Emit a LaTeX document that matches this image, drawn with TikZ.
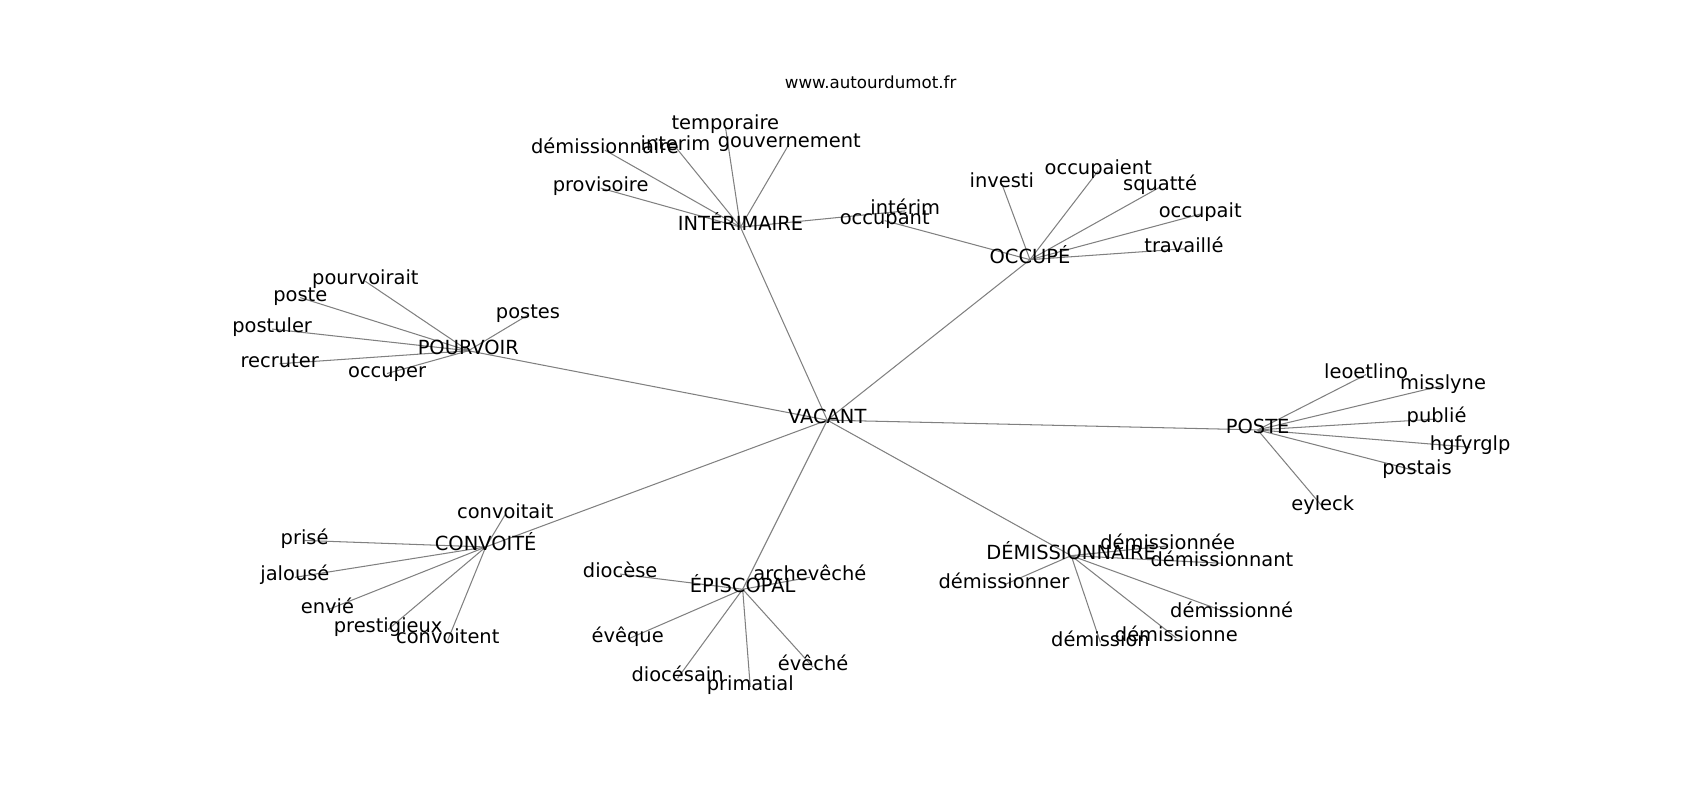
\documentclass[tikz,border=0pt]{standalone}
\usepackage{fontspec}
\setmainfont{DejaVu Sans}
\pgfdeclarelayer{bg}
\pgfsetlayers{bg,main}
\begin{document}
\begin{tikzpicture}[x=0.7806pt, y=-0.7806pt,
  lbl/.style={font=\fontsize{14}{16}\selectfont, inner sep=0pt, text height=0.76em, text depth=0.24em, anchor=center},
  ttl/.style={font=\fontsize{12}{14}\selectfont, inner sep=0pt, text height=0.76em, text depth=0.24em, anchor=center},
  edge/.style={draw=gray, line width=0.75pt}]
\useasboundingbox (0,-2.5) rectangle (1568,735.5);
\node[ttl] (title) at (803,76) {www.autourdumot.fr};
% hubs
\node[lbl] (vacant) at (763,385) {VACANT};
\node[lbl] (interimaire) at (683,207) {INTÉRIMAIRE};
\node[lbl] (occupe) at (950,237) {OCCUPÉ};
\node[lbl] (pourvoir) at (432,321) {POURVOIR};
\node[lbl] (poste) at (1160,394) {POSTE};
\node[lbl] (convoite) at (448,502) {CONVOITÉ};
\node[lbl] (episcopal) at (685,541) {ÉPISCOPAL};
\node[lbl] (demire) at (988,510) {DÉMISSIONNAIRE};
% INTERIMAIRE leaves
\node[lbl] (temporaire) at (669,114) {temporaire};
\node[lbl] (demnaire) at (558,136) {démissionnaire};
\node[lbl] (interim1) at (623,133) {interim};
\node[lbl] (gouv) at (728,130) {gouvernement};
\node[lbl] (provisoire) at (554,171) {provisoire};
\node[lbl] (interim2) at (835,192) {intérim};
% OCCUPE leaves
\node[lbl] (occupant) at (816,201) {occupant};
\node[lbl] (investi) at (924,167) {investi};
\node[lbl] (occupaient) at (1013,155) {occupaient};
\node[lbl] (squatte) at (1070,170) {squatté};
\node[lbl] (occupait) at (1107,195) {occupait};
\node[lbl] (travaille) at (1092,227) {travaillé};
% POURVOIR leaves
\node[lbl] (pourvoirait) at (337,257) {pourvoirait};
\node[lbl] (posteb) at (277,272) {poste};
\node[lbl] (postuler) at (251,301) {postuler};
\node[lbl] (recruter) at (258,333) {recruter};
\node[lbl] (occuper) at (357,342) {occuper};
\node[lbl] (postes) at (487,288) {postes};
% POSTE leaves
\node[lbl] (leoetlino) at (1260,343) {leoetlino};
\node[lbl] (misslyne) at (1331,353) {misslyne};
\node[lbl] (publie) at (1325,384) {publié};
\node[lbl] (hgfyrglp) at (1356,410) {hgfyrglp};
\node[lbl] (postais) at (1307,432) {postais};
\node[lbl] (eyleck) at (1220,465) {eyleck};
% CONVOITE leaves
\node[lbl] (convoitait) at (466,472) {convoitait};
\node[lbl] (prise) at (281,496) {prisé};
\node[lbl] (jalouse) at (272,530) {jalousé};
\node[lbl] (envie) at (302,560) {envié};
\node[lbl] (prestigieux) at (358,578) {prestigieux};
\node[lbl] (convoitent) at (413,588) {convoitent};
% EPISCOPAL leaves
\node[lbl] (diocese) at (572,527) {diocèse};
\node[lbl] (archeveche) at (747,530) {archevêché};
\node[lbl] (eveque) at (579,587) {évêque};
\node[lbl] (diocesain) at (625,623) {diocésain};
\node[lbl] (primatial) at (692,631) {primatial};
\node[lbl] (eveche) at (750,613) {évêché};
% DEMISSIONNAIRE leaves
\node[lbl] (demee) at (1077,501) {démissionnée};
\node[lbl] (demant) at (1127,517) {démissionnant};
\node[lbl] (demer) at (926,537) {démissionner};
\node[lbl] (deme) at (1136,564) {démissionné};
\node[lbl] (demne) at (1085,586) {démissionne};
\node[lbl] (demion) at (1015,590) {démission};
\begin{pgfonlayer}{bg}
\foreach \a/\b in {vacant/interimaire, vacant/occupe, vacant/pourvoir, vacant/poste, vacant/convoite, vacant/episcopal, vacant/demire,
  interimaire/temporaire, interimaire/demnaire, interimaire/interim1, interimaire/gouv, interimaire/provisoire, interimaire/interim2,
  occupe/occupant, occupe/investi, occupe/occupaient, occupe/squatte, occupe/occupait, occupe/travaille,
  pourvoir/pourvoirait, pourvoir/posteb, pourvoir/postuler, pourvoir/recruter, pourvoir/occuper, pourvoir/postes,
  poste/leoetlino, poste/misslyne, poste/publie, poste/hgfyrglp, poste/postais, poste/eyleck,
  convoite/convoitait, convoite/prise, convoite/jalouse, convoite/envie, convoite/prestigieux, convoite/convoitent,
  episcopal/diocese, episcopal/archeveche, episcopal/eveque, episcopal/diocesain, episcopal/primatial, episcopal/eveche,
  demire/demee, demire/demant, demire/demer, demire/deme, demire/demne, demire/demion}
  \draw[edge] (\a.center) -- (\b.center);
\end{pgfonlayer}
\end{tikzpicture}
\end{document}
